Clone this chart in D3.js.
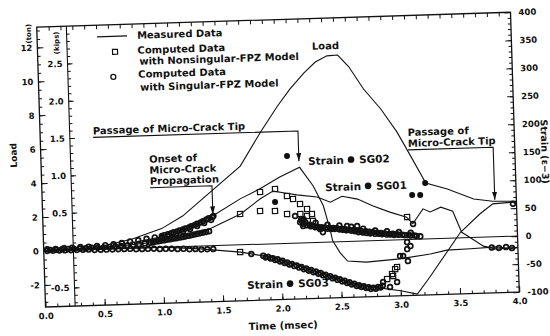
<!DOCTYPE html>
<html>
<head>
<meta charset="utf-8">
<script src="https://cdn.jsdelivr.net/npm/d3@7"></script>
<style>
  body { margin: 0; background: #fff; }
  text { font-family: "DejaVu Sans", sans-serif; fill: #111; font-weight: bold; }
</style>
</head>
<body>
<svg id="chart" width="550" height="336"></svg>
<script>
// axis ticks
const timeTicks = [0, 0.5, 1.0, 1.5, 2.0, 2.5, 3.0, 3.5, 4.0]
const tonTicks = [-2, 0, 2, 4, 6, 8, 10, 12]
const kipTicks = [-0.5, 0.5, 1.0, 1.5, 2.0, 2.5]
const strainTicks = [-100, -50, 0, 50, 100, 150, 200, 250, 300, 350, 400]

// measured load [time msec, ton]
const loadMeasured = [
  [0, 0], [0.25, 0.03], [0.5, 0.18], [0.75, 0.54], [1.0, 1.1], [1.18, 1.8], [1.42, 3.16],
  [1.68, 4.64], [1.86, 6.61], [2.01, 8.11], [2.12, 9.09], [2.24, 10.0], [2.34, 10.63],
  [2.44, 10.97], [2.53, 11.0], [2.62, 10.3], [2.74, 8.95], [2.88, 7.74], [3.01, 6.36],
  [3.12, 4.91], [3.24, 3.3], [3.42, 2.91], [3.64, 2.27], [3.8, 2.1], [4.0, 2.05]
]

// measured strains [time msec, strain]
const sg01Measured = [
  [0, 0], [0.5, 2], [0.9, 9], [1.07, 14], [1.35, 25], [1.67, 55], [1.84, 81], [1.95, 94],
  [2.05, 90], [2.15, 86], [2.32, 81], [2.43, 71], [2.53, 81], [2.66, 75], [2.79, 62],
  [2.93, 50], [3.07, 40], [3.12, 28], [3.21, 54], [3.27, 48], [3.36, 56], [3.46, 48],
  [3.53, 10], [3.58, 3], [3.71, -16], [3.82, -22], [4.0, -20]
]
const sg02Measured = [
  [0, 0], [0.3, 1], [0.6, 5], [0.98, 18], [1.2, 32], [1.44, 54], [1.67, 82], [1.84, 99],
  [2.01, 119], [2.18, 135], [2.29, 101], [2.37, 65], [2.42, 23], [2.44, 2], [2.5, -20],
  [2.56, -35], [2.72, -38], [3.0, -34], [3.26, -27], [3.4, -21], [3.6, -20], [3.82, -18],
  [3.94, -22], [4.0, -20]
]
const sg03Measured = [
  [0, 0], [0.64, 0], [1.02, 0], [1.32, -5], [1.66, -13], [1.85, -21], [1.97, -28],
  [2.16, -41], [2.43, -63], [2.66, -80], [2.77, -83], [3.0, -91], [3.14, -98],
  [3.25, -68], [3.52, 10], [3.69, 42], [3.8, 59], [3.97, 61], [4.0, 61]
]

// computed, singular-FPZ model (open circles) [time, strain]
const circlesSingular = [
  // dense run along zero
  [0.03, 0], [0.08, 0], [0.13, 0], [0.18, 0], [0.23, 0], [0.28, 0], [0.33, 0], [0.38, 0],
  [0.43, -1], [0.48, -1], [0.53, -1], [0.58, -1], [0.63, -1], [0.68, -1], [0.73, -1],
  [0.78, -2], [0.83, -2], [0.88, -2], [0.93, -2], [0.98, -3], [1.03, -3], [1.08, -3],
  [1.13, -4], [1.18, -4], [1.23, -5], [1.28, -5], [1.33, -6], [1.38, -6], [1.43, -6],
  [0.055, 1.5], [0.105, 1.5], [0.155, 2], [0.205, 2], [0.255, 2], [0.305, 2.5], [0.355, 2.5],
  [0.405, 3], [0.455, 3], [0.505, 3], [0.555, 3.5], [0.605, 4], [0.655, 4.5], [0.705, 5],
  [0.755, 6], [0.805, 7], [0.855, 8], [0.905, 9],
  // rising run up to the onset arrow
  [0.03, 3], [0.1, 3], [0.17, 4], [0.24, 4], [0.31, 5], [0.38, 5], [0.45, 6], [0.52, 7],
  [0.59, 8], [0.66, 10], [0.73, 12], [0.8, 14], [0.87, 16], [0.94, 18], [1.0, 20],
  [1.05, 23], [1.1, 26], [1.15, 29], [1.2, 32], [1.25, 36], [1.3, 40], [1.35, 44],
  [1.4, 49], [1.44, 53],
  [1.02, 21.5], [1.08, 24.5], [1.13, 27.5], [1.18, 30.5], [1.23, 34], [1.28, 38], [1.33, 42],
  [1.38, 47], [1.43, 51],
  [1.0, 17], [1.06, 20], [1.12, 23], [1.18, 27], [1.24, 31], [1.3, 36], [1.36, 41], [1.42, 46],
  // lower rising run
  [0.9, 9], [0.95, 10.5], [1.0, 12], [1.05, 13.5], [1.1, 15], [1.15, 16.5], [1.2, 18],
  [1.25, 20], [1.3, 22], [1.35, 24], [1.4, 26],
  [0.925, 9.5], [0.975, 11], [1.025, 12.5], [1.075, 14], [1.125, 15.5], [1.175, 17],
  [1.225, 19], [1.275, 21], [1.325, 23], [1.375, 25],
  // SG03 run
  [1.75, -17],
  [1.85, -21], [1.89, -23], [1.93, -26], [1.97, -28], [2.01, -31], [2.05, -34], [2.09, -37],
  [2.13, -40], [2.17, -43], [2.21, -46], [2.25, -49], [2.29, -52], [2.33, -55], [2.37, -58],
  [2.41, -61], [2.45, -64], [2.49, -67], [2.53, -70], [2.57, -73], [2.61, -76], [2.65, -79],
  [2.69, -81], [2.73, -83], [2.77, -84], [2.81, -83], [2.85, -81],
  [1.87, -24], [1.91, -26], [1.95, -29], [1.99, -32], [2.03, -35], [2.07, -38], [2.11, -41],
  [2.15, -44], [2.19, -47], [2.23, -50], [2.27, -53], [2.31, -56], [2.35, -59], [2.39, -62],
  [2.43, -65], [2.47, -68], [2.51, -71], [2.55, -74], [2.59, -77], [2.63, -80], [2.67, -82],
  [2.71, -84], [2.75, -86], [2.79, -86], [2.83, -84],
  [2.854, -74.5], [2.911, -83.8], [2.972, -75.2], [3.004, -28.9], [3.069, -38.4],
  [3.066, -17], [3.067, -4.5], [3.094, -11.8], [3.03, -29],
  // SG02 run after the drop
  [2.17, 37], [2.2, 34], [2.23, 31], [2.26, 29], [2.3, 27], [2.33, 26], [2.36, 25], [2.4, 24],
  [2.43, 23], [2.46, 23], [2.5, 22], [2.53, 21], [2.56, 20], [2.6, 19], [2.63, 18], [2.66, 16],
  [2.7, 15], [2.73, 14], [2.76, 13], [2.8, 12], [2.83, 12], [2.86, 11], [2.9, 10], [2.93, 10],
  [2.96, 9], [3.0, 9], [3.05, 8], [3.1, 7], [3.15, 6], [3.18, 5],
  [2.185, 39], [2.215, 36], [2.25, 32], [2.28, 30], [2.315, 28], [2.35, 27], [2.38, 26],
  [2.42, 25], [2.45, 25], [2.48, 24], [2.52, 23], [2.55, 22], [2.58, 21], [2.62, 20],
  [2.65, 19], [2.68, 18], [2.72, 17], [2.75, 16], [2.78, 15], [2.82, 14], [2.85, 13],
  [2.88, 12], [2.92, 11], [2.95, 11], [2.98, 10], [3.03, 9], [3.08, 8], [3.13, 7],
  [2.2, 42], [2.3, 35], [2.4, 31], [2.5, 29], [2.6, 26], [2.7, 22], [2.8, 18], [2.9, 16],
  [3.0, 14], [3.1, 12],
  [2.129, 48.4], [2.18, 42.7], [2.195, 30], [2.279, 29.5], [2.337, 23.7], [2.36, 18],
  [2.565, 27.5], [2.65, 27], [2.7, 16], [3.122, 27.5],
  [3.78, -19], [3.84, -20], [3.9, -19], [3.95, -21], [3.97, 58]
]

// computed, nonsingular-FPZ model (open squares) [time, strain]
const squaresNonsingular = [
  [1.666, 55], [1.84, 93.2], [1.967, 97.7], [2.066, 84.5], [2.116, 78.8], [2.174, 69.5],
  [2.232, 60.2], [1.835, 59.3], [1.961, 58.4], [2.062, 52.3], [2.174, 51.6], [2.23, 47.7],
  [2.272, 50.9], [2.279, 38.4], [1.656, -12.9], [3.074, 40.2],
  [2.889, -69.3], [2.932, -60.7], [2.959, -52], [2.976, -48.4], [2.94, -64.3]
]

// filled dots [time, strain]
const filledDots = [
  [2.077, 155.9], [1.964, 74.5], [3.122, 79.3], [3.19, 78.8], [3.235, 100]
]

const svg = d3.select("#chart")
const frame = { left: 41, top: 19.6, width: 474, height: 280 }
const right = frame.left + frame.width
const bottom = frame.top + frame.height

// the scanned figure sits slightly tilted
const g = svg.append("g").attr("transform", "rotate(-1.8, 277.8, 159.4)")

const x = d3.scaleLinear().domain([0, 4]).range([frame.left, right])
const yTon = d3.scaleLinear().domain([-3.3, 13.2]).range([bottom, frame.top])
const yKip = d3.scaleLinear().domain([-0.75, 3.0]).range([bottom, frame.top])
const yStr = d3.scaleLinear().domain([-100, 400]).range([bottom, frame.top])

const ink = "#111"

svg.append("defs").append("marker")
  .attr("id", "arrow")
  .attr("viewBox", "0 0 8 5")
  .attr("refX", 8).attr("refY", 2.5)
  .attr("markerWidth", 8).attr("markerHeight", 5)
  .attr("markerUnits", "userSpaceOnUse")
  .attr("orient", "auto")
  .append("path").attr("d", "M0,0 L8,2.5 L0,5 z").attr("fill", ink)

function tidy(sel, size) {
  sel.select(".domain").remove()
  sel.selectAll("line").attr("stroke", ink).attr("stroke-width", 1)
  sel.selectAll("text").attr("font-size", size || 8.5).attr("fill", ink)
    .attr("font-family", "DejaVu Sans, sans-serif").attr("font-weight", "bold")
}

// bottom and top axes
g.append("g").attr("transform", `translate(0,${bottom})`)
  .call(d3.axisBottom(x).tickValues(timeTicks).tickFormat(d => d.toFixed(1))
    .tickSizeInner(-6).tickSizeOuter(0).tickPadding(6))
  .call(tidy)
g.append("g").attr("transform", `translate(0,${bottom})`)
  .call(d3.axisBottom(x).tickValues(d3.range(0.1, 4, 0.1)).tickFormat("")
    .tickSizeInner(-3).tickSizeOuter(0))
  .call(tidy)
g.append("g").attr("transform", `translate(0,${frame.top})`)
  .call(d3.axisTop(x).tickValues(d3.range(0.1, 4, 0.1)).tickFormat("")
    .tickSizeInner(-4).tickSizeOuter(0))
  .call(tidy)

// outer load axis (ton)
g.append("g").attr("transform", `translate(${frame.left},0)`)
  .call(d3.axisLeft(yTon).tickValues(tonTicks).tickFormat(d => String(d))
    .tickSizeInner(-6).tickSizeOuter(0).tickPadding(5))
  .call(tidy)
g.append("g").attr("transform", `translate(${frame.left},0)`)
  .call(d3.axisLeft(yTon).tickValues(d3.range(-3, 13.2, 0.5)).tickFormat("")
    .tickSizeInner(-3).tickSizeOuter(0))
  .call(tidy)

// inner load axis
const xInner = x(0.25)
g.append("line").attr("x1", xInner).attr("x2", xInner)
  .attr("y1", frame.top).attr("y2", bottom).attr("stroke", ink).attr("stroke-width", 1.1)
g.append("g").attr("transform", `translate(${xInner},0)`)
  .call(d3.axisLeft(yKip).tickValues(kipTicks).tickFormat(d => d.toFixed(1))
    .tickSizeInner(-5).tickSizeOuter(0).tickPadding(5))
  .call(tidy)
g.append("g").attr("transform", `translate(${xInner},0)`)
  .call(d3.axisLeft(yKip).tickValues(d3.range(-0.7, 3.0, 0.1)).tickFormat("")
    .tickSizeInner(-3).tickSizeOuter(0))
  .call(tidy)

// strain axis on the right
g.append("g").attr("transform", `translate(${right},0)`)
  .call(d3.axisRight(yStr).tickValues(strainTicks).tickFormat(d => String(d))
    .tickSizeInner(-6).tickSizeOuter(0).tickPadding(8))
  .call(tidy)
g.append("g").attr("transform", `translate(${right},0)`)
  .call(d3.axisRight(yStr).tickValues(d3.range(-90, 400, 10)).tickFormat("")
    .tickSizeInner(-3).tickSizeOuter(0))
  .call(tidy)

// frame
g.append("rect")
  .attr("x", frame.left).attr("y", frame.top)
  .attr("width", frame.width).attr("height", frame.height)
  .attr("fill", "none").attr("stroke", ink).attr("stroke-width", 1.3)

// axis titles
g.append("text").attr("transform", `translate(14,147) rotate(-90)`)
  .attr("text-anchor", "middle").attr("dominant-baseline", "central")
  .attr("font-size", 9).text("Load")
g.append("text").attr("transform", `translate(33,26) rotate(-90)`)
  .attr("text-anchor", "middle").attr("dominant-baseline", "central")
  .attr("font-size", 7).text("(ton)")
g.append("text").attr("transform", `translate(${xInner - 10},36) rotate(-90)`)
  .attr("text-anchor", "middle").attr("dominant-baseline", "central")
  .attr("font-size", 7).text("(kips)")
g.append("text").attr("transform", `translate(545,160) rotate(90)`)
  .attr("text-anchor", "middle").attr("dominant-baseline", "central")
  .attr("font-size", 9.5).attr("font-weight", "normal").text("Strain (ε−3)")
g.append("text").attr("x", (frame.left + right) / 2).attr("y", bottom + 26)
  .attr("text-anchor", "middle").attr("dominant-baseline", "central")
  .attr("font-size", 10).text("Time (msec)")

// zero line
g.append("line").attr("x1", frame.left).attr("x2", right)
  .attr("y1", yStr(0)).attr("y2", yStr(0)).attr("stroke", ink).attr("stroke-width", 1)

// measured curves
const lineStr = d3.line().x(d => x(d[0])).y(d => yStr(d[1]))
const lineTon = d3.line().x(d => x(d[0])).y(d => yTon(d[1]))

g.append("path").attr("d", lineTon(loadMeasured))
  .attr("fill", "none").attr("stroke", ink).attr("stroke-width", 1.1)
;[sg01Measured, sg02Measured, sg03Measured].forEach(s => {
  g.append("path").attr("d", lineStr(s))
    .attr("fill", "none").attr("stroke", ink).attr("stroke-width", 1.1)
})

// computed points
g.append("g").selectAll("circle").data(circlesSingular).join("circle")
  .attr("cx", d => x(d[0])).attr("cy", d => yStr(d[1])).attr("r", 2.4)
  .attr("fill", "none").attr("stroke", ink).attr("stroke-width", 1.7)
g.append("g").selectAll("rect").data(squaresNonsingular).join("rect")
  .attr("x", d => x(d[0]) - 2.6).attr("y", d => yStr(d[1]) - 2.6)
  .attr("width", 5.2).attr("height", 5.2)
  .attr("fill", "none").attr("stroke", ink).attr("stroke-width", 1.2)
g.append("g").selectAll("circle").data(filledDots).join("circle")
  .attr("cx", d => x(d[0])).attr("cy", d => yStr(d[1])).attr("r", 3)
  .attr("fill", ink)

// callouts: text lines above an underline, then an arrow down
function callout(lines, t0, t1, sUnder, sTip) {
  const yu = yStr(sUnder)
  lines.slice().reverse().forEach((txt, i) => {
    g.append("text").attr("x", x(t0)).attr("y", yu - 3 - i * 11)
      .attr("font-size", 10).text(txt)
  })
  g.append("path")
    .attr("d", `M${x(t0)},${yu} H${x(t1)} V${yStr(sTip)}`)
    .attr("fill", "none").attr("stroke", ink).attr("stroke-width", 1.1)
    .attr("marker-end", "url(#arrow)")
}
callout(["Passage of Micro-Crack Tip"], 0.446, 2.176, 200, 146)
callout(["Onset of", "Micro-Crack", "Propagation"], 0.913, 1.436, 107, 56)
callout(["Passage of", "Micro-Crack Tip"], 3.10, 3.818, 160, 66)

// gauge labels
function gaugeLabel(name, t, s) {
  const x0 = x(t), y0 = yStr(s)
  g.append("text").attr("x", x0).attr("y", y0).attr("dominant-baseline", "central")
    .attr("font-size", 10.5).text("Strain")
  g.append("circle").attr("cx", x0 + 43).attr("cy", y0).attr("r", 3.3).attr("fill", ink)
  g.append("text").attr("x", x0 + 51).attr("y", y0).attr("dominant-baseline", "central")
    .attr("font-size", 10.5).text(name)
}
gaugeLabel("SG02", 2.253, 146)
gaugeLabel("SG01", 2.39, 98)
gaugeLabel("SG03", 1.706, -72)

// load label at the peak
g.append("text").attr("x", x(2.43)).attr("y", yTon(11.56))
  .attr("text-anchor", "middle").attr("dominant-baseline", "central")
  .attr("font-size", 10).text("Load")

// legend
const lx = frame.left + 60
g.append("line").attr("x1", lx).attr("x2", lx + 30)
  .attr("y1", frame.top + 11.7).attr("y2", frame.top + 11.7).attr("stroke", ink).attr("stroke-width", 1.2)
g.append("rect").attr("x", lx + 15).attr("y", frame.top + 24.7).attr("width", 5).attr("height", 5)
  .attr("fill", "none").attr("stroke", ink).attr("stroke-width", 1.2)
g.append("circle").attr("cx", lx + 15).attr("cy", frame.top + 52.2).attr("r", 2.5)
  .attr("fill", "none").attr("stroke", ink).attr("stroke-width", 1.3)
const legendRows = [
  ["Measured Data", 11.4], ["Computed Data", 26.4], ["with Nonsingular-FPZ Model", 37.4],
  ["Computed Data", 50.4], ["with Singular-FPZ Model", 63.4]
]
legendRows.forEach(([txt, dy], i) => {
  g.append("text").attr("x", lx + 40 + (i === 2 || i === 4 ? 1.5 : 0)).attr("y", frame.top + dy)
    .attr("dominant-baseline", "central").attr("font-size", 10).text(txt)
})
</script>
</body>
</html>
